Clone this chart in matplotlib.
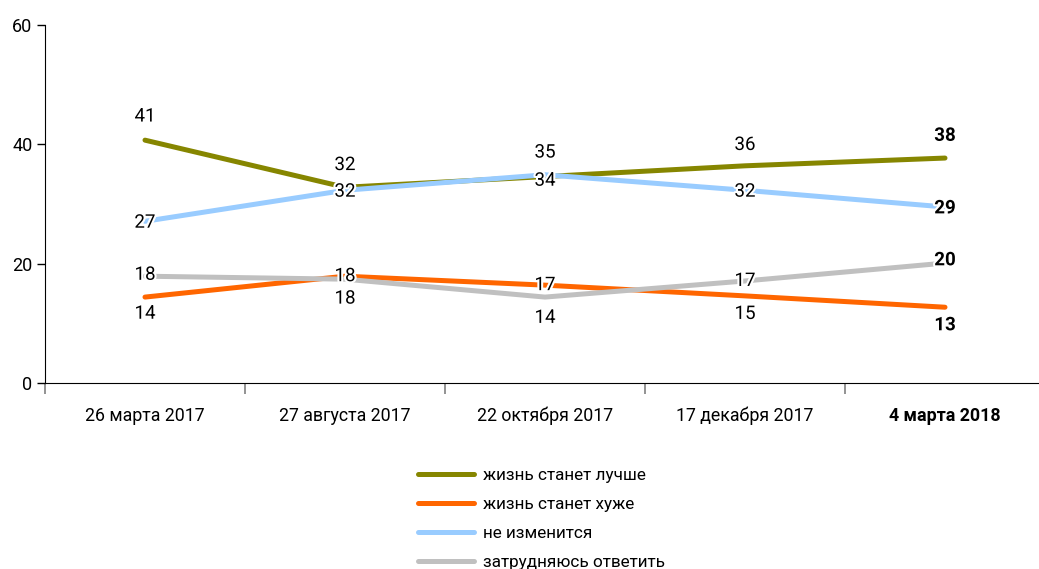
import matplotlib
matplotlib.use("Agg")
import matplotlib.pyplot as plt
import matplotlib.patheffects as pe
from matplotlib.lines import Line2D

plt.rcParams['font.family'] = ['Roboto', 'DejaVu Sans']

categories = ["26 марта 2017", "27 августа 2017", "22 октября 2017", "17 декабря 2017", "4 марта 2018"]
series_names = ["жизнь станет лучше", "жизнь станет хуже", "не изменится", "затрудняюсь ответить"]
better = [40.7, 32.8, 34.6, 36.4, 37.7]
worse = [14.4, 17.9, 16.4, 14.6, 12.7]
same = [27.1, 32.3, 34.9, 32.3, 29.5]
unsure = [17.9, 17.4, 14.4, 17.1, 20.1]
better_lbl = [41, 32, 34, 36, 38]
worse_lbl = [14, 18, 17, 15, 13]
same_lbl = [27, 32, 35, 32, 29]
unsure_lbl = [18, 18, 14, 17, 20]
yticks = [0, 20, 40, 60]

colors = ["#868600", "#ff6600", "#99ccff", "#c0c0c0"]
values = [better, worse, same, unsure]
labels = [better_lbl, worse_lbl, same_lbl, unsure_lbl]
# label vertical offsets in points (positive = up)
offsets = [
    [17, 16, -3, 15, 16],     # better
    [-12, 0, 0, -13, -13],    # worse
    [-1, -1, 16, -1, -1],     # same
    [1, -14, -15, 0, 2],      # unsure
]

fig = plt.figure(figsize=(10.39, 5.69), dpi=100)
ax = fig.add_axes([45/1039, 186/569, 1000/1039, 358/569])
x = list(range(len(categories)))

for vals, col, name in zip(values, colors, series_names):
    ax.plot(x, vals, color=col, lw=3.6, solid_capstyle='round', label=name, zorder=2)

for vals, lbls, offs in zip(values, labels, offsets):
    for i, (v, l, o) in enumerate(zip(vals, lbls, offs)):
        ax.annotate(str(l), (i, v), xytext=(0, o), textcoords='offset points',
                    ha='center', va='center', fontsize=13.5,
                    fontweight='bold' if i == len(categories) - 1 else 'normal',
                    path_effects=[pe.withStroke(linewidth=3, foreground='white')],
                    zorder=3)

ax.set_xlim(-0.5, len(categories) - 0.5)
ax.set_ylim(0, 60)
ax.set_yticks(yticks)
ax.set_yticklabels([str(t) for t in yticks], fontsize=13)
ax.tick_params(axis='y', direction='out', length=6, width=1, pad=3)

ax.set_xticks(x)
ax.set_xticklabels(categories, fontsize=12.8)
ax.get_xticklabels()[-1].set_fontweight('bold')
ax.tick_params(axis='x', which='major', length=0, pad=17)
ax.set_xticks([i - 0.5 for i in range(len(categories) + 1)], minor=True)
ax.tick_params(axis='x', which='minor', direction='out', length=8, width=1.2, color='#808080')

for s in ['top', 'right']:
    ax.spines[s].set_visible(False)
ax.spines['left'].set_color('black')
ax.spines['bottom'].set_color('black')

handles = [Line2D([], [], color=c, lw=3.6, solid_capstyle='round') for c in colors]
fig.legend(handles, series_names, loc='upper left', bbox_to_anchor=(418/1039, 1 - 468/569),
           frameon=False, fontsize=12.3, handlelength=3.3, handletextpad=0.5,
           labelspacing=0.82, borderpad=0, borderaxespad=0)

fig.savefig("out.png", dpi=100)
